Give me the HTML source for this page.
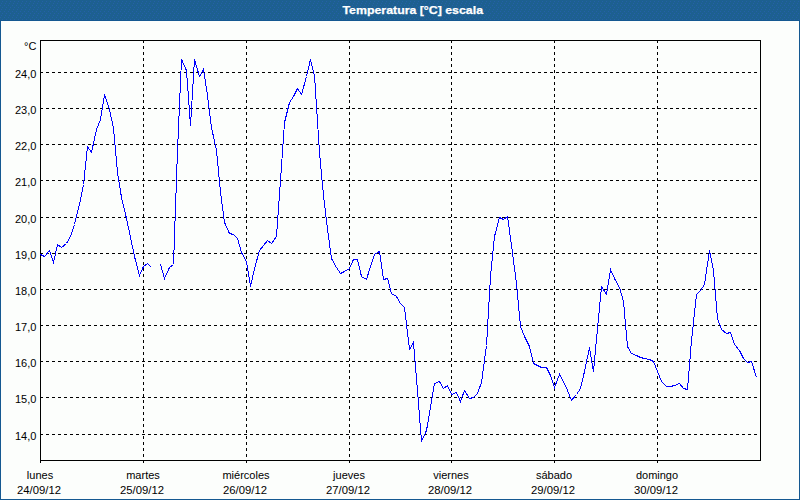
<!DOCTYPE html>
<html><head><meta charset="utf-8"><style>
html,body{margin:0;padding:0;width:800px;height:500px;overflow:hidden;background:#fcfefc;}
svg{display:block;}
text{font-family:"Liberation Sans",sans-serif;font-size:11px;fill:#000;}
</style></head><body>
<svg width="800" height="500" viewBox="0 0 800 500">
<rect x="0" y="0" width="800" height="500" fill="#145891"/>
<rect x="1" y="21" width="798" height="478" fill="#fcfefc"/>
<defs><pattern id="dith" x="0" y="0" width="4" height="6" patternUnits="userSpaceOnUse"><rect x="2" y="1" width="1" height="1" fill="#2560a8"/><rect x="1" y="3" width="1" height="1" fill="#2560a8"/><rect x="0" y="5" width="1" height="1" fill="#2560a8"/></pattern></defs>
<rect x="0" y="0" width="800" height="20" fill="#1d6090"/>
<rect x="0" y="0" width="800" height="20" fill="url(#dith)" shape-rendering="crispEdges"/>
<text x="342.5" y="14" textLength="140.5" lengthAdjust="spacingAndGlyphs" style="font-weight:bold;fill:#fff;stroke:#fff;stroke-width:0.25px">Temperatura [°C] escala</text>
<g stroke="#000" stroke-width="1" stroke-dasharray="3 3" fill="none" shape-rendering="crispEdges"><path d="M40 72.5 H760"/><path d="M40 108.5 H760"/><path d="M40 144.5 H760"/><path d="M40 180.5 H760"/><path d="M40 217.5 H760"/><path d="M40 253.5 H760"/><path d="M40 289.5 H760"/><path d="M40 325.5 H760"/><path d="M40 361.5 H760"/><path d="M40 397.5 H760"/><path d="M40 434.5 H760"/><path d="M143.5 40 V460"/><path d="M246.5 40 V460"/><path d="M349.5 40 V460"/><path d="M451.5 40 V460"/><path d="M554.5 40 V460"/><path d="M657.5 40 V460"/></g>
<rect x="40.5" y="40.5" width="720" height="420" fill="none" stroke="#000" stroke-width="1" shape-rendering="crispEdges"/>
<g stroke="#000" stroke-width="1" fill="none" shape-rendering="crispEdges"><path d="M40.5 460 V463"/><path d="M143.5 460 V463"/><path d="M246.5 460 V463"/><path d="M349.5 460 V463"/><path d="M451.5 460 V463"/><path d="M554.5 460 V463"/><path d="M657.5 460 V463"/></g>
<g stroke="#0000ff" stroke-width="1" fill="none" shape-rendering="crispEdges" stroke-linejoin="miter"><path d="M40.5 254.5 L44.5 256.5 L49.5 250.5 L53.5 262.5 L57.5 244.5 L61.5 247.5 L66.5 243.5 L70.5 236.5 L74.5 224.5 L79.5 204.5 L83.5 184.5 L87.5 146.5 L91.5 152.5 L96.5 129.5 L100.5 119.5 L104.5 94.5 L109.5 109.5 L113.5 128.5 L117.5 172.5 L121.5 197.5 L126.5 218.5 L130.5 237.5 L134.5 256.5 L139.5 275.5 L143.5 266.5 L147.5 263.5 L151.5 267.5"/><path d="M160.5 264.5 L164.5 278.5 L169.5 267.5 L173.5 264.5 L177.5 150.5 L181.5 59.5 L186.5 70.5 L190.5 125.5 L194.5 59.5 L199.5 76.5 L203.5 69.5 L207.5 95.5 L211.5 127.5 L216.5 150.5 L220.5 192.5 L224.5 222.5 L229.5 233.5 L233.5 234.5 L237.5 238.5 L241.5 252.5 L246.5 261.5 L250.5 286.5 L254.5 268.5 L259.5 250.5 L263.5 245.5 L267.5 240.5 L271.5 243.5 L276.5 236.5 L280.5 180.5 L284.5 122.5 L289.5 102.5 L293.5 96.5 L297.5 88.5 L301.5 94.5 L306.5 76.5 L310.5 59.5 L314.5 75.5 L319.5 152.5 L323.5 195.5 L327.5 229.5 L331.5 258.5 L336.5 267.5 L340.5 273.5 L344.5 271.5 L349.5 268.5 L353.5 259.5 L357.5 259.5 L361.5 276.5 L366.5 279.5 L370.5 266.5 L374.5 254.5 L379.5 251.5 L383.5 279.5 L387.5 278.5 L391.5 293.5 L396.5 296.5 L400.5 303.5 L404.5 307.5 L409.5 349.5 L413.5 342.5 L417.5 390.5 L421.5 441.5 L426.5 430.5 L430.5 407.5 L434.5 383.5 L439.5 381.5 L443.5 388.5 L447.5 385.5 L451.5 394.5 L456.5 392.5 L460.5 401.5 L464.5 390.5 L469.5 398.5 L473.5 397.5 L477.5 393.5 L481.5 382.5 L486.5 345.5 L490.5 276.5 L494.5 236.5 L499.5 217.5 L503.5 219.5 L507.5 216.5 L511.5 245.5 L516.5 283.5 L520.5 326.5 L524.5 336.5 L529.5 346.5 L533.5 363.5 L537.5 365.5 L541.5 367.5 L546.5 367.5 L550.5 375.5 L554.5 387.5 L559.5 374.5 L563.5 381.5 L567.5 390.5 L571.5 400.5 L576.5 394.5 L580.5 388.5 L584.5 371.5 L589.5 347.5 L593.5 371.5 L597.5 328.5 L601.5 286.5 L606.5 294.5 L610.5 269.5 L614.5 278.5 L619.5 287.5 L623.5 301.5 L627.5 346.5 L631.5 353.5 L636.5 355.5 L640.5 357.5 L644.5 358.5 L649.5 359.5 L653.5 361.5 L657.5 371.5 L661.5 381.5 L666.5 386.5 L670.5 386.5 L674.5 385.5 L679.5 383.5 L683.5 388.5 L687.5 389.5 L691.5 340.5 L696.5 294.5 L700.5 290.5 L704.5 284.5 L709.5 250.5 L713.5 270.5 L717.5 318.5 L721.5 329.5 L726.5 333.5 L730.5 332.5 L734.5 344.5 L739.5 350.5 L743.5 358.5 L747.5 362.5 L751.5 361.5 L756.5 377.5"/></g>
<text x="36.4" y="50" text-anchor="end">°C</text>
<text x="36.4" y="78" text-anchor="end">24,0</text><text x="36.4" y="114" text-anchor="end">23,0</text><text x="36.4" y="150" text-anchor="end">22,0</text><text x="36.4" y="186" text-anchor="end">21,0</text><text x="36.4" y="223" text-anchor="end">20,0</text><text x="36.4" y="259" text-anchor="end">19,0</text><text x="36.4" y="295" text-anchor="end">18,0</text><text x="36.4" y="331" text-anchor="end">17,0</text><text x="36.4" y="367" text-anchor="end">16,0</text><text x="36.4" y="403" text-anchor="end">15,0</text><text x="36.4" y="440" text-anchor="end">14,0</text>
<text x="40" y="479" text-anchor="middle">lunes</text><text x="39" y="494" text-anchor="middle" textLength="44" lengthAdjust="spacingAndGlyphs">24/09/12</text><text x="143" y="479" text-anchor="middle">martes</text><text x="142" y="494" text-anchor="middle" textLength="44" lengthAdjust="spacingAndGlyphs">25/09/12</text><text x="246" y="479" text-anchor="middle">miércoles</text><text x="245" y="494" text-anchor="middle" textLength="44" lengthAdjust="spacingAndGlyphs">26/09/12</text><text x="349" y="479" text-anchor="middle">jueves</text><text x="348" y="494" text-anchor="middle" textLength="44" lengthAdjust="spacingAndGlyphs">27/09/12</text><text x="451" y="479" text-anchor="middle">viernes</text><text x="450" y="494" text-anchor="middle" textLength="44" lengthAdjust="spacingAndGlyphs">28/09/12</text><text x="554" y="479" text-anchor="middle">sábado</text><text x="553" y="494" text-anchor="middle" textLength="44" lengthAdjust="spacingAndGlyphs">29/09/12</text><text x="657" y="479" text-anchor="middle">domingo</text><text x="656" y="494" text-anchor="middle" textLength="44" lengthAdjust="spacingAndGlyphs">30/09/12</text>
</svg>
</body></html>
